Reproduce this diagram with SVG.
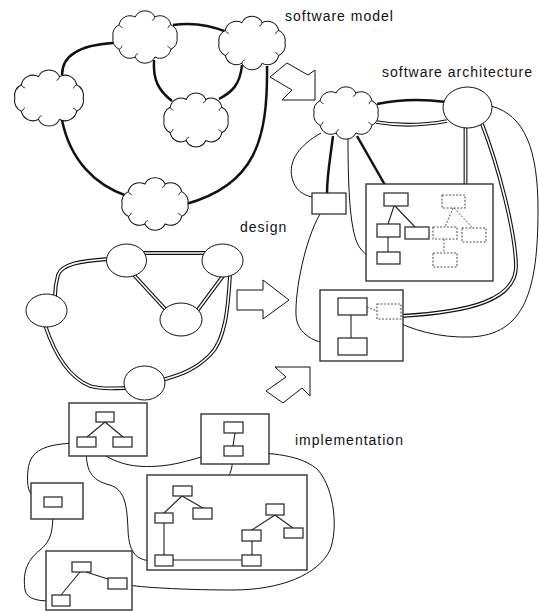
<svg xmlns="http://www.w3.org/2000/svg" xmlns:xlink="http://www.w3.org/1999/xlink" width="539" height="611" viewBox="0 0 539 611">
  <style>
    .bg { fill: #ffffff; }
    .lbl { font-family: "Liberation Sans", Arial, sans-serif; font-size: 14px; letter-spacing: 1px; fill: #111; }
    .cloud { fill: #fff; stroke: #111; stroke-width: 1; }
    .curl { fill: none; stroke: #111; stroke-width: 0.8; }
    .oval { fill: #fff; stroke: #111; stroke-width: 1; }
    .box { fill: #fff; stroke: #333; stroke-width: 1.4; }
    .item { fill: #fff; stroke: #222; stroke-width: 1.2; }
    .ghost { fill: #fff; stroke: #555; stroke-width: 1.1; stroke-dasharray: 2 1.5; }
    .thick { fill: none; stroke: #111; stroke-width: 2.5; }
    .thin { fill: none; stroke: #111; stroke-width: 1; }
    .tie { fill: none; stroke: #222; stroke-width: 1.1; }
    .dash { fill: none; stroke: #555; stroke-width: 1; stroke-dasharray: 2 1.5; }
    .dbl-o { fill: none; stroke: #111; stroke-width: 3.8; }
    .dbl-i { fill: none; stroke: #fff; stroke-width: 1.6; }
    .move { fill: #fff; stroke: #111; stroke-width: 1; stroke-linejoin: miter; }
  </style>
  <defs>
    <g id="cloud">
      <path class="cloud" d="M32,0 A11,11 0 0 1 25.89,12.35 A11,11 0 0 1 9.89,19.97 A11,11 0 0 1 -9.89,19.97 A11,11 0 0 1 -25.89,12.35 A11,11 0 0 1 -32,0 A11,11 0 0 1 -25.89,-12.35 A11,11 0 0 1 -9.89,-19.97 A11,11 0 0 1 9.89,-19.97 A11,11 0 0 1 25.89,-12.35 A11,11 0 0 1 32,0 Z"/>
      <path class="curl" d="M25.89,12.35 q-1,-2.5 -3.5,-3 M-9.89,19.97 q0.5,-3 3,-3.5 M-25.89,-12.35 q1,2.5 3.5,3 M9.89,-19.97 q-0.5,3 -3,3.5 M-25.89,12.35 q2.5,-1 3,-3.5 M25.89,-12.35 q-2.5,1 -3,3.5"/>
    </g>
    <!-- double-line routes, drawn as a dark casing with a white core -->
    <path id="d-jk" d="M140,253 L208,253"/>
    <path id="d-jm" d="M133,274 L167,311"/>
    <path id="d-km" d="M223,276 L197,311"/>
    <path id="d-jl" d="M108,259 C80,261 62,264 58,275 C56,282 55,290 55,297"/>
    <path id="d-ln" d="M45,325 C55,355 70,378 90,386 C103,390 112,388 127,388"/>
    <path id="d-kn" d="M230,275 C228,310 225,340 210,355 C195,370 180,375 162,380"/>
    <path id="d-fg" d="M376,122 Q410,128 447,121"/>
    <path id="d-gh" d="M465.5,127 V184"/>
    <path id="d-gi" d="M482,124 C498,165 515,230 516,265 C517,300 470,312 401,316"/>
  </defs>

  <rect class="bg" x="0" y="0" width="539" height="611"/>

  <!-- section titles -->
  <text class="lbl" x="285" y="21">software model</text>
  <text class="lbl" x="382" y="77">software architecture</text>
  <text class="lbl" x="240" y="232">design</text>
  <text class="lbl" x="295" y="445">implementation</text>

  <!-- transition arrows between the levels -->
  <g id="arrow-model">
    <polygon class="move" points="287,63 308,75 315,70 315,100 282,100 292,90 270,77"/>
  </g>
  <g id="arrow-design">
    <polygon class="move" points="237,290 263,290 263,280 289,300 263,319 263,310 237,310"/>
  </g>
  <g id="arrow-impl">
    <polygon class="move" points="310,367 310,396 302,388 283,403 266,391 286,377 275,367"/>
  </g>

  <!-- connectors -->
  <g id="connectors">
    <!-- software model -->
    <path class="thick" d="M113,43 C80,45 62,55 62,75"/>
    <path class="thick" d="M173,25 Q200,21 227,32"/>
    <path class="thick" d="M154,60 C153,80 158,90 172,101"/>
    <path class="thick" d="M242,65 C240,85 232,92 219,99"/>
    <path class="thick" d="M62,120 C70,160 95,185 127,196"/>
    <path class="thick" d="M267,66 C268,140 255,185 186,204"/>

    <!-- design -->
    <use href="#d-jk" class="dbl-o"/><use href="#d-jk" class="dbl-i"/>
    <use href="#d-jm" class="dbl-o"/><use href="#d-jm" class="dbl-i"/>
    <use href="#d-km" class="dbl-o"/><use href="#d-km" class="dbl-i"/>
    <use href="#d-jl" class="dbl-o"/><use href="#d-jl" class="dbl-i"/>
    <use href="#d-ln" class="dbl-o"/><use href="#d-ln" class="dbl-i"/>
    <use href="#d-kn" class="dbl-o"/><use href="#d-kn" class="dbl-i"/>

    <!-- software architecture -->
    <path class="thick" d="M377,104 Q410,97 446,102"/>
    <use href="#d-fg" class="dbl-o"/><use href="#d-fg" class="dbl-i"/>
    <use href="#d-gh" class="dbl-o"/><use href="#d-gh" class="dbl-i"/>
    <use href="#d-gi" class="dbl-o"/><use href="#d-gi" class="dbl-i"/>
    <path class="thin" d="M491,106 C525,115 538,150 538,210 C538,290 525,335 470,337 C440,338 410,330 390,318"/>
    <path class="thick" d="M333,136 C330,160 327,175 327,194"/>
    <path class="thick" d="M357,136 L385,185"/>
    <path class="thin" d="M348,138 C348,190 350,235 360,248 C366,256 372,258 377,258"/>
    <path class="thin" d="M321,133 C300,145 288,160 292,178 C295,190 303,195 312,197"/>
    <path class="thin" d="M320,214 C305,240 295,290 296,315 C297,335 315,343 338,346"/>

    <!-- implementation -->
    <path class="thin" d="M77,443 C45,444 30,450 28,470 C26,490 30,499 44,501"/>
    <path class="thin" d="M86,447 C86,470 90,480 110,485 C125,490 127,505 128,530 C129,555 138,561 155,561"/>
    <path class="thin" d="M93,447 C115,465 135,468 160,466 C185,464 205,454 224,452"/>
    <path class="thin" d="M243,453 C280,452 305,458 318,470 C335,490 338,530 330,550 C318,575 280,590 233,590 C190,590 150,588 127,585"/>
    <path class="thin" d="M233,456 C232,475 228,480 218,482 C207,485 203,495 203,508"/>
    <path class="thin" d="M53,507 C53,530 52,540 40,550 C25,562 23,575 25,590 C27,600 40,601 52,601"/>
  </g>

  <!-- software model nodes -->
  <g id="model-a"><use href="#cloud" transform="translate(145,37)"/></g>
  <g id="model-b"><use href="#cloud" transform="translate(252,43) scale(1.03,1.02)"/></g>
  <g id="model-c"><use href="#cloud" transform="translate(49,98) scale(1.07,1.07)"/></g>
  <g id="model-d"><use href="#cloud" transform="translate(196,120) scale(1,1.03)"/></g>
  <g id="model-e"><use href="#cloud" transform="translate(155,204) scale(1.03,1)"/></g>

  <!-- design nodes -->
  <g id="design-j"><ellipse class="oval" cx="126.5" cy="260.5" rx="20" ry="16.5"/></g>
  <g id="design-k"><ellipse class="oval" cx="222.5" cy="260.5" rx="20.5" ry="16.5"/></g>
  <g id="design-l"><ellipse class="oval" cx="46.5" cy="310.5" rx="20.5" ry="16.5"/></g>
  <g id="design-m"><ellipse class="oval" cx="181" cy="319.5" rx="21" ry="16.5"/></g>
  <g id="design-n"><ellipse class="oval" cx="144.5" cy="383" rx="20.5" ry="17"/></g>

  <!-- software architecture nodes -->
  <g id="arch-f"><use href="#cloud" transform="translate(346,113)"/></g>
  <g id="arch-g"><ellipse class="oval" cx="467.5" cy="107.5" rx="24.5" ry="20.5"/></g>
  <g id="arch-port"><rect class="item" x="312" y="193" width="34" height="21"/></g>
  <g id="arch-h">
    <rect class="box" x="366" y="184" width="127" height="97"/>
    <path class="tie" d="M394,206 L388,224 M395,206 L415,227 M388,237 V252"/>
    <path class="dash" d="M453,208 L445,227 M454,208 L473,228 M444,239 V253"/>
    <rect class="item" x="384" y="193" width="24" height="13"/>
    <rect class="item" x="377" y="224" width="23" height="13"/>
    <rect class="item" x="405" y="227" width="24" height="12"/>
    <rect class="item" x="377" y="252" width="23" height="12"/>
    <rect class="ghost" x="442" y="195" width="23" height="13"/>
    <rect class="ghost" x="433" y="227" width="24" height="12"/>
    <rect class="ghost" x="462" y="228" width="24" height="14"/>
    <rect class="ghost" x="433" y="253" width="24" height="14"/>
  </g>
  <g id="arch-i">
    <rect class="box" x="320" y="290" width="83" height="71"/>
    <path class="tie" d="M351,315 V338"/>
    <path class="dash" d="M367,307 L377,311"/>
    <rect class="item" x="338" y="298" width="29" height="17"/>
    <rect class="item" x="338" y="338" width="29" height="17"/>
    <rect class="ghost" x="377" y="304" width="24" height="15"/>
  </g>

  <!-- implementation nodes -->
  <g id="impl-p1">
    <rect class="box" x="69" y="403" width="78" height="53"/>
    <path class="tie" d="M105,422 L87,437 M105,422 L123,437"/>
    <rect class="item" x="96" y="412" width="18" height="10"/>
    <rect class="item" x="77" y="437" width="19" height="10"/>
    <rect class="item" x="113" y="437" width="19" height="10"/>
  </g>
  <g id="impl-p2">
    <rect class="box" x="201" y="414" width="68" height="50"/>
    <path class="tie" d="M235,433 L233,446"/>
    <rect class="item" x="224" y="422" width="19" height="11"/>
    <rect class="item" x="224" y="446" width="19" height="10"/>
  </g>
  <g id="impl-p3">
    <rect class="box" x="31" y="483" width="52" height="36"/>
    <rect class="item" x="44" y="497" width="18" height="10"/>
  </g>
  <g id="impl-p4">
    <rect class="box" x="147" y="475" width="160" height="95"/>
    <path class="tie" d="M182,496 L164,513 M182,496 L203,508 M164,523 V555 M173,560 H242 M252,555 V541 M252,530 L275,515 M275,515 L293,528"/>
    <rect class="item" x="173" y="486" width="19" height="10"/>
    <rect class="item" x="155" y="513" width="18" height="10"/>
    <rect class="item" x="193" y="508" width="19" height="11"/>
    <rect class="item" x="155" y="555" width="18" height="11"/>
    <rect class="item" x="242" y="555" width="19" height="11"/>
    <rect class="item" x="242" y="530" width="19" height="11"/>
    <rect class="item" x="266" y="504" width="18" height="11"/>
    <rect class="item" x="284" y="528" width="19" height="10"/>
  </g>
  <g id="impl-p5">
    <rect class="box" x="46" y="551" width="86" height="59"/>
    <path class="tie" d="M80,572 L61,595 M86,572 L108,579"/>
    <rect class="item" x="72" y="562" width="19" height="10"/>
    <rect class="item" x="108" y="578" width="19" height="11"/>
    <rect class="item" x="52" y="595" width="18" height="11"/>
  </g>
</svg>
